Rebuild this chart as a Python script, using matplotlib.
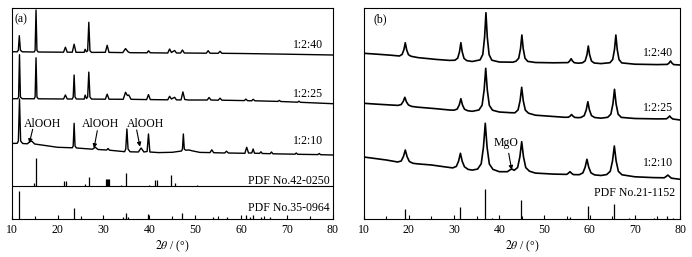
import matplotlib
matplotlib.use("Agg")
import matplotlib.pyplot as plt

plt.rcParams['font.family'] = ['Liberation Serif', 'DejaVu Serif']
plt.rcParams['mathtext.fontset'] = 'stix'

# ---------------- panel (a) data ----------------
a40_x = [10.0, 11.2, 11.45, 11.66, 11.9, 12.3, 14.9, 15.1, 15.3, 15.5, 15.8, 21.3, 21.7, 22.1,
         23.2, 23.6, 24.0, 25.8, 26.0, 26.3, 26.55, 26.8, 27.05, 27.4, 30.4, 30.8, 31.2,
         34.2, 34.8, 35.4, 35.8, 39.5, 39.8, 40.2, 44.0, 44.4, 44.8, 45.5, 45.9, 46.8, 47.2,
         47.6, 52.4, 52.8, 53.2, 55.0, 55.4, 55.8, 60.0, 70.0, 80.0]
a40_y = [3.3, 3.2, 4.8, 19.3, 4.8, 3.2, 3.0, 4.6, 45.0, 4.6, 3.0, 2.8, 7.8, 2.8,
         2.8, 10.8, 2.7, 2.7, 5.7, 3.2, 4.2, 32.7, 4.2, 2.6, 2.7, 9.7, 2.6,
         2.4, 6.4, 3.0, 2.3, 2.2, 4.2, 2.2, 2.0, 6.0, 2.5, 4.5, 2.0, 2.0, 5.0,
         2.0, 1.8, 4.3, 1.8, 1.7, 3.7, 1.7, 1.5, 0.8, 0.0]

a25_x = [10.0, 11.3, 11.5, 11.7, 11.9, 12.3, 14.9, 15.1, 15.3, 15.5, 15.8, 21.3, 21.7, 22.1,
         23.2, 23.4, 23.6, 23.8, 24.1, 25.8, 26.0, 26.3, 26.55, 26.8, 27.05, 27.4, 30.4,
         30.8, 31.2, 34.3, 34.8, 35.2, 35.5, 36.0, 39.4, 39.8, 40.2, 44.0, 44.4, 44.8, 45.5,
         45.9, 46.9, 47.3, 47.7, 48.5, 52.6, 53.0, 53.4, 55.0, 55.4, 55.8, 60.7, 61.0, 61.4,
         62.3, 62.6, 63.0, 68.0, 68.3, 68.6, 72.3, 72.6, 72.9, 80.0]
a25_y = [5.3, 5.3, 7.0, 49.3, 7.0, 5.3, 5.2, 7.0, 46.2, 7.0, 5.2, 5.0, 9.0, 5.0,
         5.0, 7.0, 29.0, 7.0, 5.0, 4.9, 8.9, 5.5, 7.0, 31.9, 7.0, 4.9, 4.8,
         9.8, 4.8, 4.7, 11.7, 8.5, 9.0, 4.7, 4.4, 9.4, 4.4, 4.2, 7.7, 5.0, 6.7,
         4.1, 4.1, 12.1, 4.5, 4.0, 4.0, 6.5, 4.0, 3.8, 5.8, 3.8, 3.4, 4.9, 3.3,
         3.2, 4.7, 3.2, 2.6, 3.6, 2.5, 1.8, 2.8, 1.7, 0.3]

a10_x = [10.0, 11.2, 11.45, 11.7, 11.95, 12.4, 13.4, 14.0, 14.4, 15.0, 20.0, 23.2, 23.4, 23.6,
         23.8, 24.1, 27.6, 28.2, 28.8, 30.7, 31.0, 31.3, 34.6, 34.85, 35.1, 35.35, 35.8,
         37.6, 38.2, 38.8, 39.5, 39.8, 40.1, 42.0, 45.0, 47.0, 47.2, 47.4, 47.6, 47.9, 48.6,
         49.5, 51.0, 53.2, 53.6, 54.0, 56.4, 56.8, 57.2, 60.8, 61.2, 61.6, 62.3, 62.6, 62.9,
         64.0, 64.3, 64.6, 66.3, 66.6, 66.9, 71.7, 72.0, 72.3, 76.7, 77.0, 77.3, 80.0]
a10_y = [11.5, 11.7, 14.0, 56.0, 14.0, 11.5, 11.2, 13.5, 13.8, 11.0, 7.7, 7.2, 9.0, 31.7,
         9.0, 7.0, 5.8, 7.8, 5.5, 5.0, 6.5, 4.8, 3.3, 6.0, 26.0, 6.0, 3.2,
         3.0, 7.0, 3.0, 3.5, 21.0, 3.0, 2.4, 2.7, 4.0, 6.0, 21.0, 6.0, 4.8, 5.0,
         4.0, 2.6, 2.4, 5.2, 2.3, 2.0, 3.8, 2.0, 1.7, 7.7, 2.0, 2.0, 6.0, 1.8,
         1.6, 3.2, 1.5, 1.3, 3.0, 1.2, 0.8, 2.0, 0.7, 0.4, 1.5, 0.3, 0.0]

pdf42_pos = [14.86, 15.22, 21.46, 21.83, 26.05, 26.84, 30.5, 30.7, 30.9, 31.1, 33.8, 34.95,
             39.98, 41.15, 41.55, 44.63, 45.6, 48.5, 50.3]
pdf42_int = [3.0, 28.5, 5.3, 5.3, 2.7, 9.5, 7.0, 7.0, 7.0, 7.0, 1.0, 13.7,
             1.5, 6.0, 6.0, 11.0, 3.5, 0.7, 1.0]

pdf35_pos = [11.6, 23.57, 34.3, 34.8, 35.4, 39.8, 47.2, 53.9, 56.8, 61.0, 61.9, 62.6, 64.3, 66.3]
pdf35_int = [28.0, 10.7, 2.3, 5.5, 2.0, 4.7, 5.7, 1.5, 2.2, 3.5, 2.0, 3.5, 1.7, 2.2]

# ---------------- panel (b) data ----------------
b40_x = [10.0, 13.0, 16.0, 17.9, 18.5, 18.9, 19.2, 19.5, 19.9, 20.5, 22.0, 26.0, 29.0, 30.2,
         30.8, 31.2, 31.5, 31.8, 32.2, 32.8, 34.0, 35.75, 36.35, 36.75, 37.05, 37.35, 37.75,
         38.35, 40.0, 43.0, 43.7, 44.3, 44.7, 45.0, 45.3, 45.7, 46.3, 48.0, 52.0, 55.2, 55.6,
         55.9, 56.2, 56.6, 57.5, 58.4, 59.0, 59.4, 59.7, 60.0, 60.4, 61.0, 62.5, 64.5, 65.1,
         65.5, 65.8, 66.1, 66.5, 67.1, 70.0, 75.0, 77.2, 77.6, 77.9, 78.2, 78.6, 80.0]
b40_y = [11.7, 10.8, 9.8, 9.0, 10.6, 15.4, 22.3, 15.2, 10.3, 8.7, 7.4, 5.6, 4.6, 4.8,
         6.9, 13.2, 22.3, 13.1, 6.6, 4.4, 3.5, 5.1, 10.5, 27.7, 52.3, 27.6, 10.3,
         4.8, 3.0, 2.8, 3.8, 6.8, 16.3, 30.0, 16.2, 6.7, 3.6, 2.5, 2.2, 2.4, 4.1,
         6.3, 4.0, 2.3, 1.8, 2.2, 4.1, 10.2, 19.0, 10.1, 4.0, 2.0, 1.4, 2.3, 5.5,
         15.6, 30.0, 15.5, 5.4, 2.1, 0.8, 0.4, 0.6, 2.1, 4.0, 2.0, 0.4, 0.0]

b25_x = [10.0, 13.0, 16.0, 17.6, 18.3, 18.75, 19.1, 19.45, 19.9, 20.6, 22.0, 26.0, 29.0, 30.0,
         30.7, 31.15, 31.5, 31.85, 32.3, 33.0, 34.0, 35.5, 36.2, 36.65, 37.0, 37.35, 37.8,
         38.5, 40.0, 42.5, 43.46, 44.16, 44.61, 44.96, 45.31, 45.76, 46.46, 48.0, 52.0, 54.5,
         55.3, 55.7, 56.0, 56.3, 56.7, 57.5, 58.1, 58.8, 59.25, 59.6, 59.95, 60.4, 61.1, 62.5,
         64.0, 64.7, 65.15, 65.5, 65.85, 66.3, 67.0, 70.0, 75.0, 77.0, 77.4, 77.7, 78.0, 78.4, 80.0]
b25_y = [16.7, 15.8, 15.0, 14.6, 15.5, 18.6, 22.7, 18.2, 15.0, 13.6, 12.8, 11.3, 10.0, 9.8,
         11.0, 15.2, 21.3, 15.1, 10.8, 9.3, 8.7, 10.0, 14.8, 30.0, 51.7, 29.9, 14.6,
         9.8, 8.0, 7.3, 7.2, 10.1, 19.4, 32.7, 19.2, 9.9, 6.8, 4.8, 3.5, 2.7,
         2.8, 4.0, 5.5, 3.9, 2.6, 2.3, 2.6, 4.4, 10.1, 18.3, 10.1, 4.4, 2.5, 1.8,
         2.7, 5.9, 16.1, 30.7, 16.1, 5.8, 2.6, 1.5, 1.1, 1.2, 2.5, 4.0, 2.4, 1.0, 0.0]

b10_x = [10.0, 12.5, 15.0, 17.5, 18.3, 18.8, 19.2, 19.6, 20.1, 20.9, 22.0, 25.0, 28.0, 29.7,
         30.5, 31.0, 31.4, 31.8, 32.3, 33.1, 34.0, 35.2, 36.0, 36.5, 36.9, 37.3, 37.8, 38.6,
         40.0, 41.8, 42.4, 42.8, 43.3, 44.06, 44.56, 44.96, 45.36, 45.86, 46.66, 48.0, 52.0,
         54.9, 55.3, 55.65, 56.0, 56.4, 57.7, 58.5, 59.0, 59.4, 59.8, 60.3, 61.1, 62.5, 63.76,
         64.56, 65.06, 65.46, 65.86, 66.36, 67.16, 70.0, 74.0, 76.5, 76.9, 77.3, 77.7, 78.1, 80.0]
b10_y = [22.3, 20.8, 19.3, 17.3, 18.3, 22.9, 29.3, 22.6, 17.8, 16.0, 15.4, 14.3, 12.4, 11.4,
         12.9, 18.2, 26.0, 18.0, 12.5, 9.9, 9.2, 10.2, 15.5, 32.2, 56.0, 32.1, 15.3, 9.9,
         7.6, 7.6, 9.5, 10.2, 9.0, 11.8, 22.5, 37.6, 22.4, 11.7, 8.1, 6.2, 5.2,
         4.9, 6.1, 7.6, 6.0, 4.7, 4.6, 6.4, 12.0, 20.0, 12.0, 6.4, 4.4, 3.8, 4.7,
         8.0, 18.4, 33.3, 18.3, 7.9, 4.5, 2.5, 1.7, 1.5, 2.7, 4.2, 2.6, 1.1, 0.0]

pdf21_pos = [19.05, 31.3, 36.84, 38.5, 44.8, 55.65, 59.56, 65.4, 68.8, 74.2, 77.2, 78.5]
pdf21_int = [10.0, 11.7, 29.7, 1.0, 19.0, 2.0, 13.0, 15.3, 1.0, 1.0, 2.5, 1.0]

sample_labels = ["1:2:40", "1:2:25", "1:2:10"]

# ---------------- layout ----------------
fig = plt.figure(figsize=(6.92, 2.57), dpi=100)
ax_a = fig.add_axes([0.0169, 0.1479, 0.4643, 0.8229])
ax_b = fig.add_axes([0.5256, 0.1479, 0.4571, 0.8229])

off_a = [164, 115, 64]
off_b = [154, 99, 39.7]
fs = 8.5

for ax in (ax_a, ax_b):
    ax.set_xlim(10, 80)
    ax.set_ylim(0, 211.5)
    ax.set_yticks([])
    ax.set_xticks(range(10, 81, 10))
    ax.set_xticks(range(15, 80, 10), minor=True)
    ax.tick_params(axis='x', direction='in', length=3, width=0.8, labelsize=fs, pad=3.5)
    ax.tick_params(axis='x', which='minor', direction='in', length=2, width=0.8)
    for s in ax.spines.values():
        s.set_linewidth(0.8)
    ax.set_xlabel(r"$2\theta$ / (°)", fontsize=fs, labelpad=2)

# panel (a)
for xs, ys, off in zip([a40_x, a25_x, a10_x], [a40_y, a25_y, a10_y], off_a):
    ax_a.plot(xs, [v + off for v in ys], color='k', lw=1.0)
ax_a.vlines(pdf42_pos, 32.5, [32.5 + v for v in pdf42_int], color='k', lw=0.9)
ax_a.vlines(pdf35_pos, 0, pdf35_int, color='k', lw=0.9)
ax_a.axhline(32.5, color='k', lw=0.8)

ax_a.text(12.0, 200, "(a)", fontsize=fs, ha='center', va='center')
for lab, yy in zip(sample_labels, [174, 124.7, 78.3]):
    ax_a.text(77.8, yy, lab, fontsize=fs, ha='right', va='center')
ax_a.text(79.2, 38.3, "PDF No.42-0250", fontsize=fs, ha='right', va='center')
ax_a.text(79.2, 10.7, "PDF No.35-0964", fontsize=fs, ha='right', va='center')

arrow = dict(arrowstyle='-|>', color='k', lw=0.8, mutation_scale=6, shrinkA=0, shrinkB=0)
for tx, x0, y0, x1, y1 in [(16.75, 14.57, 89.7, 13.83, 75.7),
                           (29.4, 28.65, 88.3, 27.93, 70.7),
                           (39.2, 37.23, 89.0, 37.95, 72.3)]:
    ax_a.text(tx, 95, "AlOOH", fontsize=fs, ha='center', va='center')
    ax_a.annotate("", xy=(x1, y1), xytext=(x0, y0), arrowprops=arrow)

# panel (b)
for xs, ys, off in zip([b40_x, b25_x, b10_x], [b40_y, b25_y, b10_y], off_b):
    ax_b.plot(xs, [v + off for v in ys], color='k', lw=1.2)
ax_b.vlines(pdf21_pos, 0, pdf21_int, color='k', lw=0.9)

ax_b.text(13.7, 200, "(b)", fontsize=fs, ha='center', va='center')
for lab, yy in zip(sample_labels, [166.3, 111, 56.3]):
    ax_b.text(78.4, yy, lab, fontsize=fs, ha='right', va='center')
ax_b.text(78.95, 26.3, "PDF No.21-1152", fontsize=fs, ha='right', va='center')
ax_b.text(41.5, 75.7, "MgO", fontsize=fs, ha='center', va='center')
ax_b.annotate("", xy=(42.75, 49), xytext=(42.09, 65.7), arrowprops=arrow)

fig.savefig("out.png", dpi=100)
